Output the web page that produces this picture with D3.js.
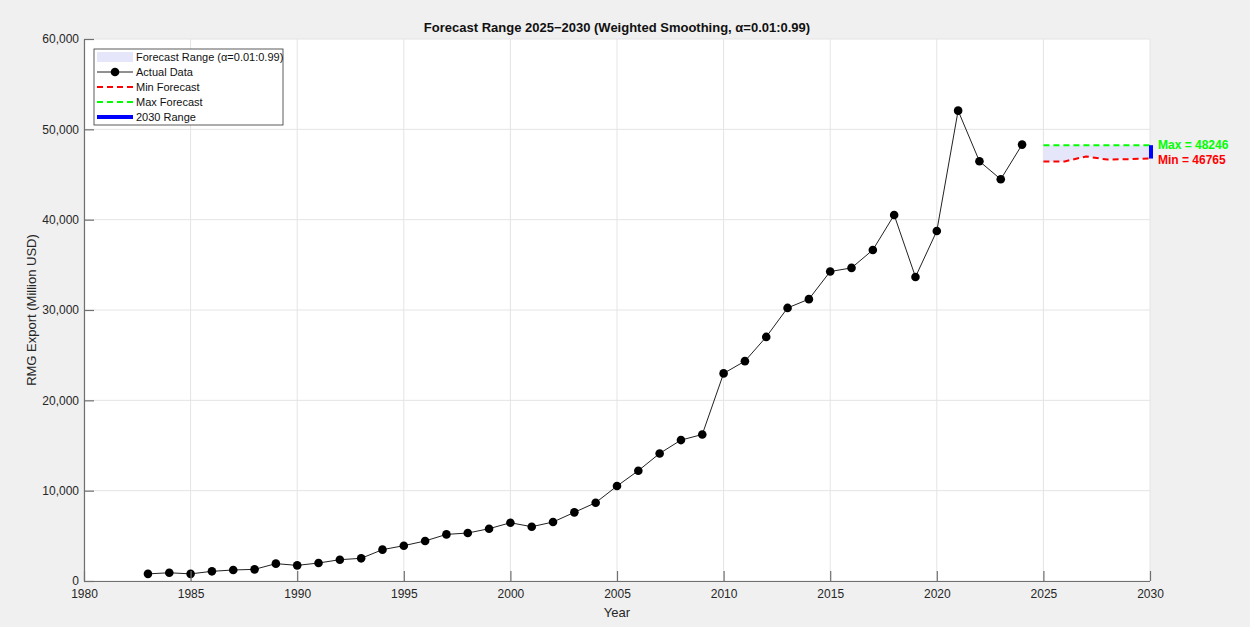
<!DOCTYPE html>
<html>
<head>
<meta charset="utf-8">
<script src="https://cdn.jsdelivr.net/npm/d3@7"></script>
<style>
  html, body { margin: 0; padding: 0; background: #f0f0f0; }
  svg { display: block; font-family: "Liberation Sans", Arial, Helvetica, sans-serif; }
</style>
</head>
<body>
<svg id="chart" width="1250" height="627"></svg>
<script>
// RMG export history (million USD)
const years = [1983,1984,1985,1986,1987,1988,1989,1990,1991,1992,1993,1994,1995,1996,1997,1998,1999,2000,2001,2002,2003,2004,2005,2006,2007,2008,2009,2010,2011,2012,2013,2014,2015,2016,2017,2018,2019,2020,2021,2022,2023,2024];
const exports = [790,910,790,1070,1220,1290,1920,1730,1990,2360,2510,3470,3910,4430,5160,5310,5790,6450,6010,6530,7600,8670,10510,12210,14120,15600,16220,22980,24340,27020,30230,31200,34260,34660,36650,40520,33660,38750,52070,46460,44470,48310];

// Forecast envelope 2025-2030 across smoothing weights
const forecastYears = [2025,2026,2027,2028,2029,2030];
const minForecast = [46430,46450,47000,46650,46700,46765];
const maxForecast = [48246,48246,48246,48246,48246,48246];

const xTicks = [1980,1985,1990,1995,2000,2005,2010,2015,2020,2025,2030];
const yTicks = [0,10000,20000,30000,40000,50000,60000];

const titleText = "Forecast Range 2025\u22122030 (Weighted Smoothing, \u03b1=0.01:0.99)";
const legendLabels = ["Forecast Range (\u03b1=0.01:0.99)","Actual Data","Min Forecast","Max Forecast","2030 Range"];

const svg = d3.select("#chart");
const L = 84, R = 1150, T = 39, B = 581;

const x = d3.scaleLinear().domain([1980, 2030]).range([L, R]);
const y = d3.scaleLinear().domain([0, 60000]).range([B, T]);

const axisColor = "#707070";
const textColor = "#262626";

// plot background
svg.append("rect").attr("x", L).attr("y", T).attr("width", R - L).attr("height", B - T).attr("fill", "#ffffff");

// grid
const grid = svg.append("g");
grid.selectAll("line.gx").data(xTicks).join("line")
  .attr("x1", d => x(d)).attr("x2", d => x(d)).attr("y1", T).attr("y2", B)
  .attr("stroke", "#e4e4e4").attr("stroke-width", 1);
grid.selectAll("line.gy").data(yTicks).join("line")
  .attr("x1", L).attr("x2", R).attr("y1", d => y(d)).attr("y2", d => y(d))
  .attr("stroke", "#e4e4e4").attr("stroke-width", 1);

// forecast band
const band = forecastYears.map((yr, i) => ({ yr, lo: minForecast[i], hi: maxForecast[i] }));
svg.append("path").datum(band)
  .attr("fill", "#e6e6fb")
  .attr("d", d3.area().x(d => x(d.yr)).y0(d => y(d.lo)).y1(d => y(d.hi)));

// actual data
const actual = years.map((yr, i) => ({ yr, v: exports[i] }));
svg.append("path").datum(actual)
  .attr("fill", "none").attr("stroke", "#222").attr("stroke-width", 1)
  .attr("d", d3.line().x(d => x(d.yr)).y(d => y(d.v)));
svg.selectAll("circle.pt").data(actual).join("circle")
  .attr("cx", d => x(d.yr)).attr("cy", d => y(d.v)).attr("r", 4.3).attr("fill", "#000");

// min / max forecast lines
svg.append("path").datum(band)
  .attr("fill", "none").attr("stroke", "#ff0000").attr("stroke-width", 2).attr("stroke-dasharray", "6,4")
  .attr("d", d3.line().x(d => x(d.yr)).y(d => y(d.lo)));
svg.append("path").datum(band)
  .attr("fill", "none").attr("stroke", "#00ff00").attr("stroke-width", 2).attr("stroke-dasharray", "6,4")
  .attr("d", d3.line().x(d => x(d.yr)).y(d => y(d.hi)));

// 2030 range bar
const last = band[band.length - 1];
svg.append("line")
  .attr("x1", x(last.yr) + 1).attr("x2", x(last.yr) + 1)
  .attr("y1", y(last.lo)).attr("y2", y(last.hi))
  .attr("stroke", "#0000ff").attr("stroke-width", 4);

// range annotations
svg.append("text").attr("x", x(last.yr) + 8).attr("y", y(last.hi)).attr("dy", "0.35em")
  .attr("fill", "#00ff00").attr("font-weight", "bold").attr("font-size", 12)
  .text("Max = " + last.hi);
svg.append("text").attr("x", x(last.yr) + 8).attr("y", y(last.lo) + 1).attr("dy", "0.35em")
  .attr("fill", "#ff0000").attr("font-weight", "bold").attr("font-size", 12)
  .text("Min = " + last.lo);

// axes (ticks pointing inward)
const xAxis = svg.append("g").attr("transform", `translate(0,${B})`)
  .call(d3.axisBottom(x).tickValues(xTicks).tickFormat(d3.format("d")).tickSizeInner(-10).tickSizeOuter(0).tickPadding(6));
const yAxis = svg.append("g").attr("transform", `translate(${L},0)`)
  .call(d3.axisLeft(y).tickValues(yTicks).tickFormat(d3.format(",")).tickSizeInner(-10).tickSizeOuter(0).tickPadding(5));
[xAxis, yAxis].forEach(g => {
  g.select(".domain").attr("stroke", axisColor).attr("stroke-width", 1.2);
  g.selectAll(".tick line").attr("stroke", axisColor).attr("stroke-width", 1.2);
  g.selectAll(".tick text").attr("fill", textColor).attr("font-size", 12)
    .attr("font-family", "'Liberation Sans', Arial, sans-serif");
});
xAxis.selectAll(".tick text").attr("dy", "0.9em");
// extend the bottom axis line to the right edge tick
xAxis.select(".domain").attr("d", `M${L},0.5V0.5H${R}`);

// axis titles
svg.append("text").attr("x", (L + R) / 2).attr("y", 617).attr("text-anchor", "middle")
  .attr("fill", textColor).attr("font-size", 13).text("Year");
svg.append("text").attr("transform", `translate(36,${(T + B) / 2}) rotate(-90)`)
  .attr("text-anchor", "middle").attr("fill", textColor).attr("font-size", 13)
  .text("RMG Export (Million USD)");

// title
svg.append("text").attr("x", (L + R) / 2).attr("y", 32).attr("text-anchor", "middle")
  .attr("fill", "#111").attr("font-weight", "bold").attr("font-size", 13).text(titleText);

// legend
const lg = svg.append("g").attr("transform", "translate(94,49)");
lg.append("rect").attr("x", 0).attr("y", 0).attr("width", 189).attr("height", 76)
  .attr("fill", "#fff").attr("stroke", "#333").attr("stroke-width", 0.8);
const rowY = [8, 23, 38, 53, 68];
const sx0 = 3, sx1 = 39, tx = 42;
lg.append("rect").attr("x", sx0).attr("y", rowY[0] - 5).attr("width", sx1 - sx0).attr("height", 10).attr("fill", "#e6e6fb");
lg.append("line").attr("x1", sx0).attr("x2", sx1).attr("y1", rowY[1]).attr("y2", rowY[1]).attr("stroke", "#222").attr("stroke-width", 1);
lg.append("circle").attr("cx", (sx0 + sx1) / 2).attr("cy", rowY[1]).attr("r", 4.3).attr("fill", "#000");
lg.append("line").attr("x1", sx0).attr("x2", sx1).attr("y1", rowY[2]).attr("y2", rowY[2]).attr("stroke", "#ff0000").attr("stroke-width", 2).attr("stroke-dasharray", "6,4");
lg.append("line").attr("x1", sx0).attr("x2", sx1).attr("y1", rowY[3]).attr("y2", rowY[3]).attr("stroke", "#00ff00").attr("stroke-width", 2).attr("stroke-dasharray", "6,4");
lg.append("line").attr("x1", sx0).attr("x2", sx1).attr("y1", rowY[4]).attr("y2", rowY[4]).attr("stroke", "#0000ff").attr("stroke-width", 4);
lg.selectAll("text.lbl").data(legendLabels).join("text")
  .attr("x", tx).attr("y", (d, i) => rowY[i]).attr("dy", "0.35em")
  .attr("font-size", 11).attr("fill", "#111").text(d => d);
</script>
</body>
</html>
